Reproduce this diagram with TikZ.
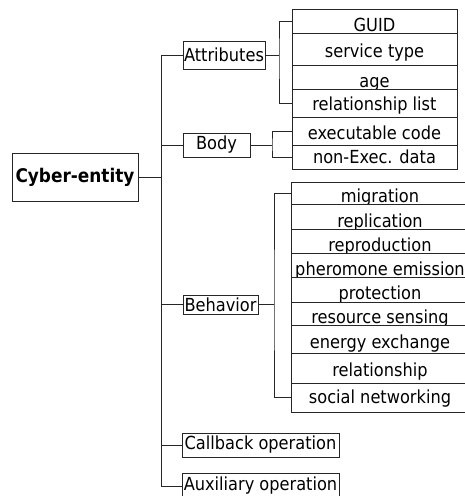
\documentclass[tikz,border=0pt]{standalone}
\usepackage{fontspec}
\setmainfont{DejaVu Sans Condensed}
\begin{document}
\begin{tikzpicture}[x=1pt,y=-1pt,
  font=\fontsize{18}{20}\selectfont,
  linec/.style={draw=black!85, line width=0.9pt},
  box/.style={linec, rectangle, inner sep=0pt, outer sep=0pt, text=black},
  cell/.style 2 args={box, fill=white, anchor=north, text height=#1, text depth=#2},
  attrcell/.style 2 args={cell={#1}{#2}, minimum width=165},
  behcell/.style 2 args={cell={#1}{#2}, minimum width=178},
  link/.style={linec}]
\useasboundingbox (0,0) rectangle (465,496);
\clip (0,0) rectangle (465,496);

% root
\node[box, minimum width=126, minimum height=48, font=\fontsize{18.8}{20}\selectfont\bfseries]
  (root) at (75,177) {Cyber-entity};

% first level
\node[box, minimum width=82, minimum height=28] (attr) at (224,55) {Attributes};
\node[box, minimum width=67, minimum height=24] (body) at (216.5,145) {Body};
\node[box, minimum width=75, minimum height=19] (beh)  at (220.5,304.5) {Behavior};
\node[box, minimum width=157, minimum height=24] (call) at (260.5,445) {Callback operation};
\node[box, minimum width=157, minimum height=26] (aux)  at (260.5,486) {Auxiliary operation};

% attribute and body cells
\node[attrcell={22}{2}] (guid) at (374.5,9) {GUID};
\node[attrcell={24}{8}] (svc)  at (guid.south) {service type};
\node[attrcell={22}{2}] (age)  at (svc.south) {age};
\node[attrcell={21}{7}] (rel)  at (age.south) {relationship list};
\node[attrcell={22}{6}] (exe)  at (rel.south) {executable code};
\node[attrcell={18}{6}] (non)  at (exe.south) {non-Exec. data};

% behaviour cells
\node[behcell={20}{2}] (mig)   at (380,182) {migration};
\node[behcell={23}{2}] (rep)   at (mig.south) {replication};
\node[behcell={22}{2}] (repro) at (rep.south) {reproduction};
\node[behcell={22}{2}] (pher)  at (repro.south) {pheromone emission};
\node[behcell={22}{3}] (prot)  at (pher.south) {protection};
\node[behcell={21}{2}] (sens)  at (prot.south) {resource sensing};
\node[behcell={23}{5}] (ener)  at (sens.south) {energy exchange};
\node[behcell={23}{7}] (rship) at (ener.south) {relationship};
\node[behcell={20}{9}] (soc)   at (rship.south) {social networking};

% trunk
\coordinate (hub) at (161,177);
\draw[link] (root.east) -- (hub);
\draw[link] (attr.west -| hub) -- (aux.west -| hub);
\foreach \n in {attr,body,beh,call,aux}
  \draw[link] (\n.west) -- (\n.west -| hub);

% brackets
\coordinate (abus) at (279,55);
\draw[link] (attr.east) -- (abus);
\draw[link] (guid.west) -| (abus) |- (rel.west);

\coordinate (bbus) at (272,145);
\draw[link] (body.east) -- (bbus);
\draw[link] (exe.west) -| (bbus) |- (non.west);

\coordinate (hbus) at (274,304.5);
\draw[link] (beh.east) -- (hbus);
\draw[link] (mig.west) -| (hbus) |- (soc.west);
\end{tikzpicture}
\end{document}
